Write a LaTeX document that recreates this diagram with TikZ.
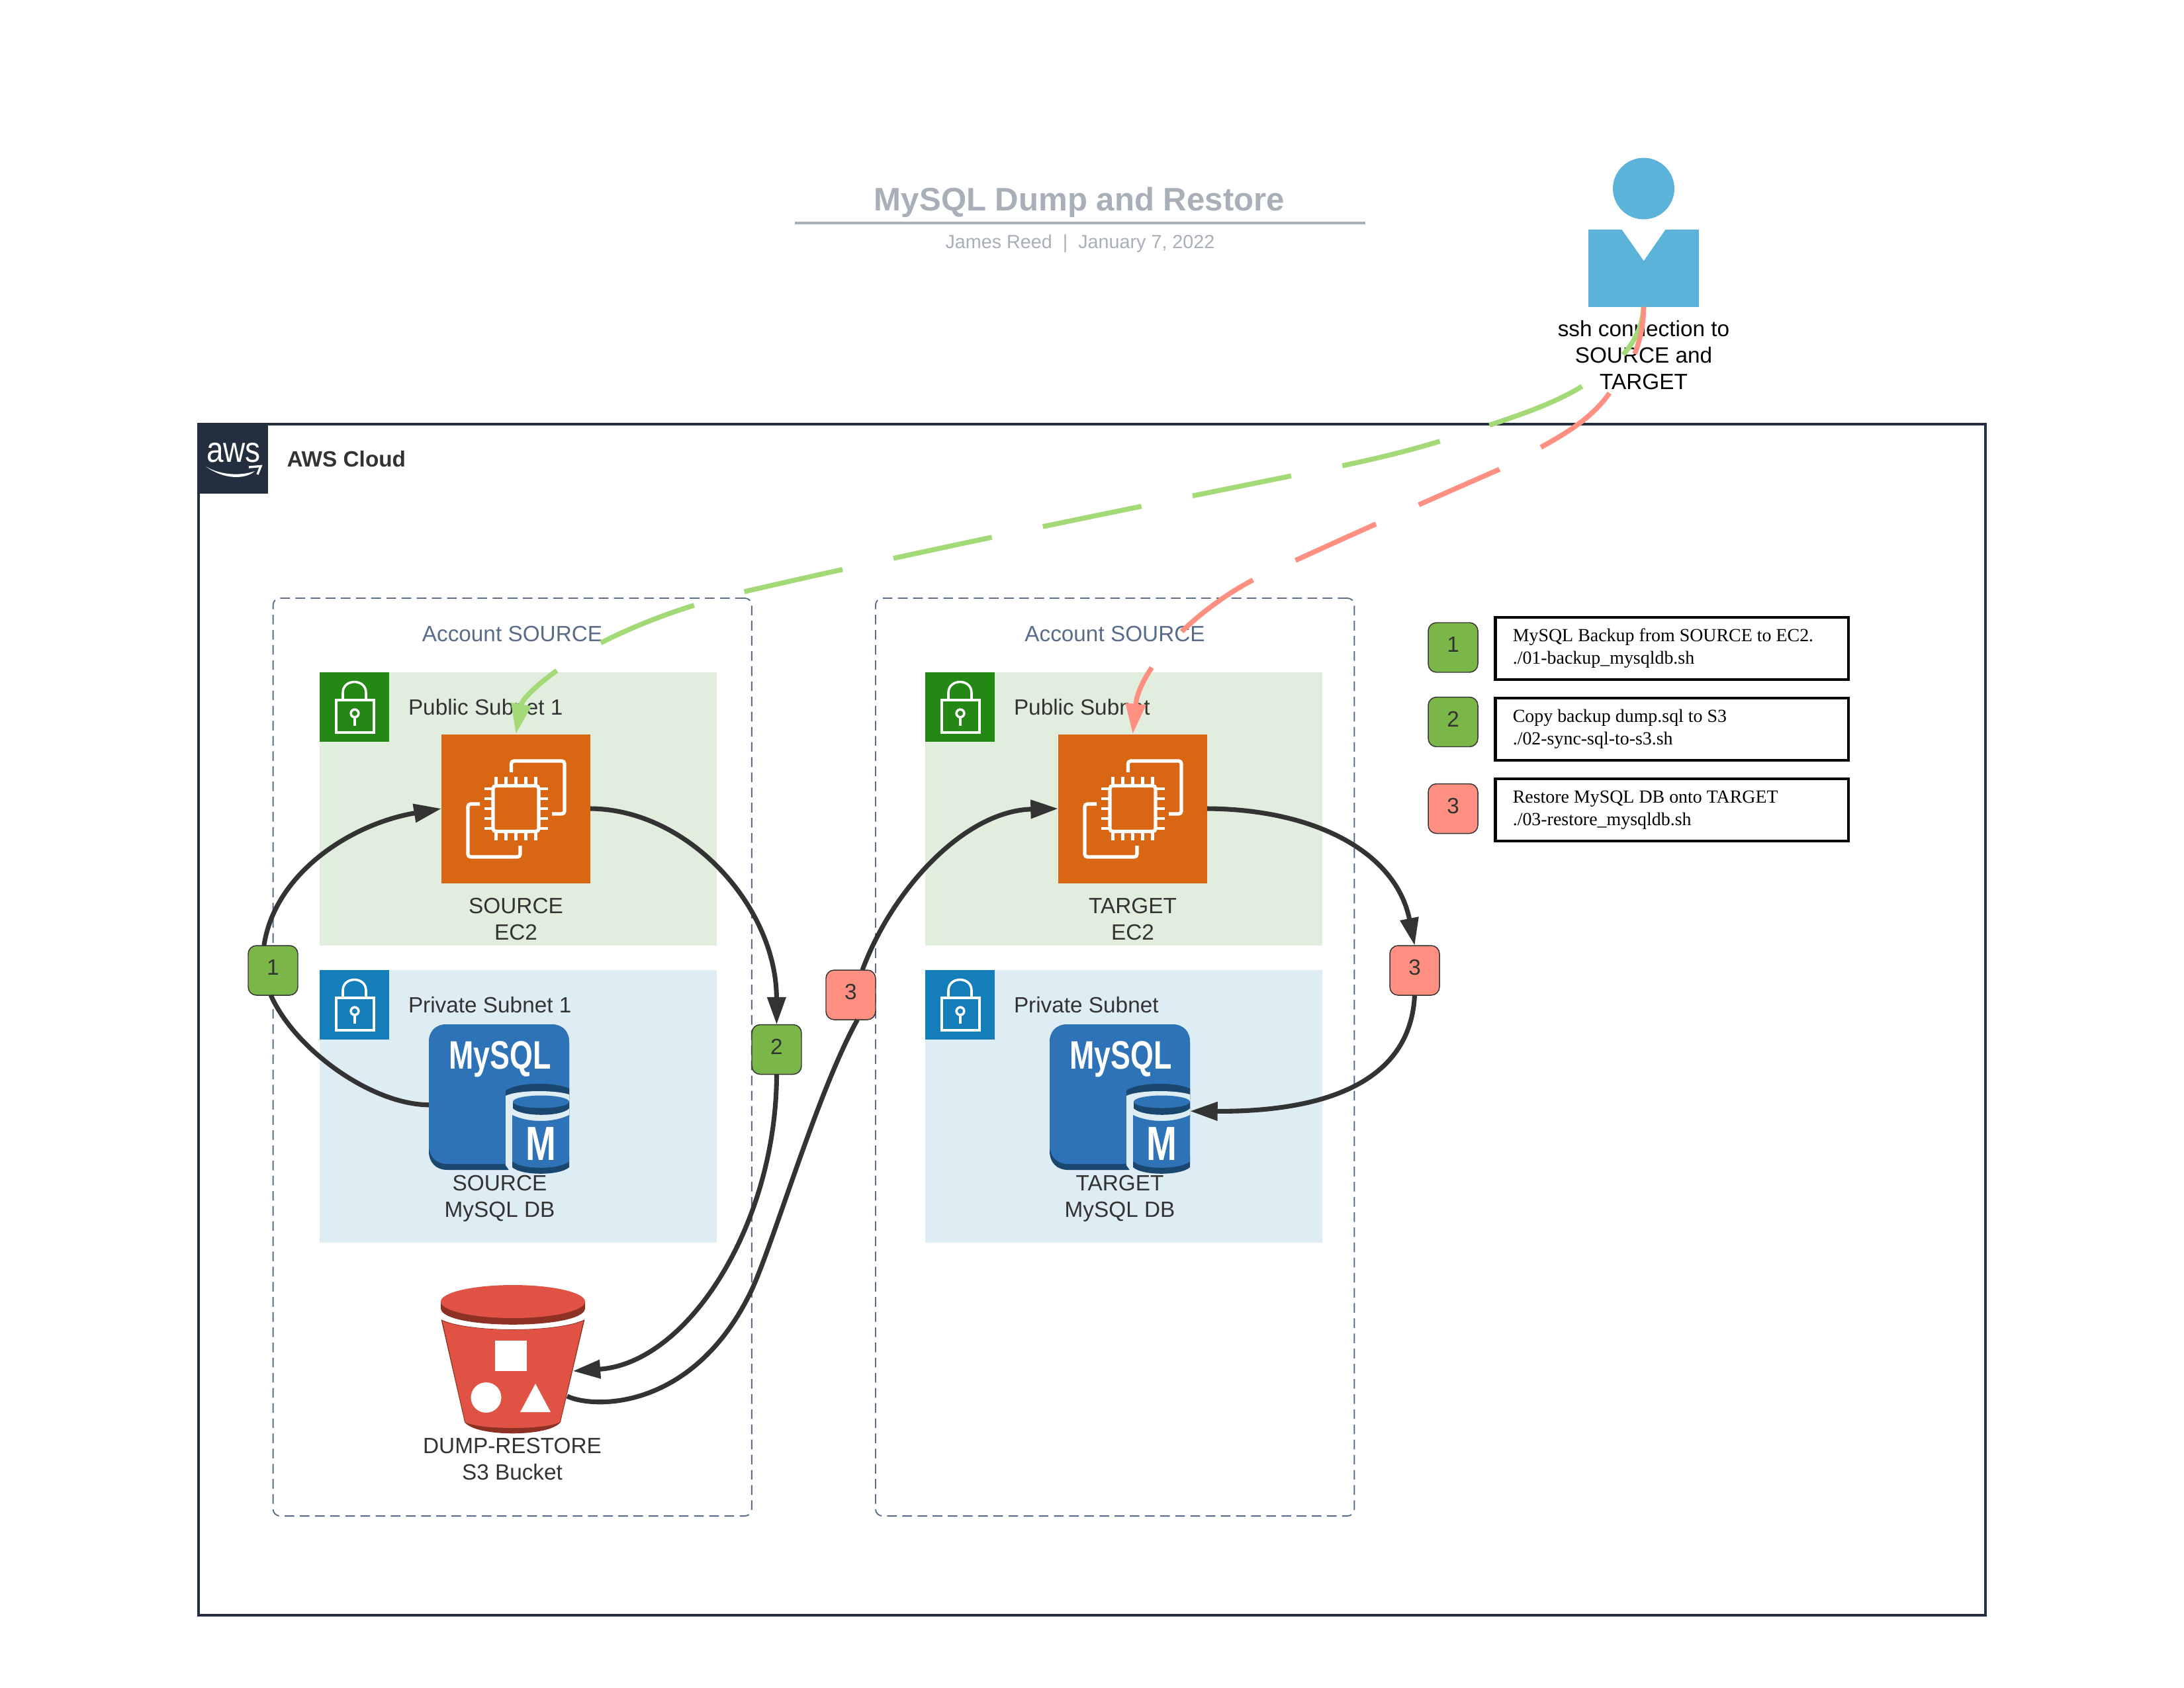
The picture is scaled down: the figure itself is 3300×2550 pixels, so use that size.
\documentclass[tikz,border=0pt]{standalone}
\usepackage{fontspec}
\setmainfont{Liberation Sans}
\newfontfamily\notefont{Liberation Serif}
\usetikzlibrary{arrows.meta,positioning}
\definecolor{awsdark}{HTML}{232F3E}
\definecolor{inktext}{HTML}{333333}
\definecolor{greybar}{HTML}{A9AFB8}
\definecolor{acctline}{HTML}{596C8A}
\definecolor{pubfill}{HTML}{E1EEDD}
\definecolor{privfill}{HTML}{DEECF4}
\definecolor{lockgreen}{HTML}{248814}
\definecolor{lockblue}{HTML}{147EBA}
\definecolor{ec2orange}{HTML}{D86613}
\definecolor{dbblue}{HTML}{2E73B8}
\definecolor{dbdark}{HTML}{1A476F}
\definecolor{s3red}{HTML}{E05243}
\definecolor{s3dark}{HTML}{8C3123}
\definecolor{stepgreen}{HTML}{7AB648}
\definecolor{stepred}{HTML}{FF8F80}
\definecolor{sshgreen}{HTML}{A3D977}
\definecolor{userblue}{HTML}{5CB3D9}
\tikzset{
pics/lockicon/.style={code={
	\draw[white,line width=0.85pt] (25,42) rectangle (82,91);
	\draw[white,line width=0.85pt] (35,42) -- (35,31) .. controls (35,9) and (70,9) .. (70,31) -- (70,42);
	\draw[white,line width=0.85pt] (53,62) circle (1.4pt);
	\draw[white,line width=0.85pt] (53,68) -- (53,81);
}},
pics/ec2icon/.style={code={
	\draw[white,line width=1.25pt,rounded corners=1pt] (-7,-55) -- (-7,-72) -- (73.5,-72) -- (73.5,8) -- (54.5,8);
	\draw[white,line width=1.25pt,rounded corners=1pt] (-54.5,-7) -- (-72.5,-7) -- (-72.5,73) -- (6.5,73) -- (6.5,56);
	\draw[white,line width=1.25pt,rounded corners=1pt] (-34.5,-34.5) rectangle (34.5,34.5);
	\foreach \k in {-30,-15,0,15,30} {
		\draw[white,line width=1.1pt] (\k,-34) -- (\k,-48);
		\draw[white,line width=1.1pt] (\k,34) -- (\k,48);
		\draw[white,line width=1.1pt] (-34,\k) -- (-48,\k);
		\draw[white,line width=1.1pt] (34,\k) -- (48,\k);
	}
}},
pics/mysqlicon/.style={code={
	\fill[dbdark] (0,28) .. controls (0,10) and (10,0) .. (28,0) -- (184,0) .. controls (202,0) and (212,10) .. (212,28) -- (212,140) -- (121,220) -- (28,220) .. controls (10,220) and (0,208) .. (0,192) -- cycle;
	\fill[dbblue] (0,28) .. controls (0,10) and (10,0) .. (28,0) -- (184,0) .. controls (202,0) and (212,10) .. (212,28) -- (212,140) -- (116,211) -- (28,211) .. controls (10,211) and (0,199) .. (0,183) -- cycle;
	\fill[dbdark] (116,100) .. controls (135,87) and (190,87) .. (212,97) -- (212,112) -- (116,112) -- cycle;
	\fill[privfill] (116,108) .. controls (135,99) and (190,99) .. (212,106) -- (212,225) -- (121,225) -- (121,220) -- (116,213) -- cycle;
	\fill[dbdark] (127,117) -- (127,127) .. controls (140,140) and (200,140) .. (212,127) -- (212,117) -- cycle;
	\fill[dbblue] (169.5,117) ellipse [x radius=42.5,y radius=9.5];
	\fill[dbdark] (126,200) -- (126,216) .. controls (140,229) and (198,229) .. (212,216) -- (212,200) -- cycle;
	\fill[dbblue] (126,137) .. controls (150,149) and (188,149) .. (212,137) -- (212,207) .. controls (198,220) and (140,220) .. (126,207) -- cycle;
	\node[white,anchor=base west,inner sep=0pt,xscale=0.746,font=\fontsize{14.4}{14.4}\selectfont\bfseries] at (30,67) {MySQL};
	\node[white,anchor=base west,inner sep=0pt,xscale=0.76,font=\fontsize{17.4}{17.4}\selectfont\bfseries] at (146,205) {M};
}},
pics/s3icon/.style={code={
	\fill[s3dark] (36,198) -- (181,198) -- (181,207) .. controls (165,230) and (52,230) .. (36,207) -- cycle;
	\fill[s3dark] (0.5,52) .. controls (40,72) and (178,72) .. (217.5,52) -- (181,207) .. controls (160,222) and (57,222) .. (36,207) -- cycle;
	\fill[s3red] (2.5,54) .. controls (40,72) and (178,72) .. (215.5,54) -- (180,207) .. controls (160,219) and (57,219) .. (37,207) -- cycle;
	\fill[s3dark] (0,25) -- (0,35) .. controls (0,68) and (218,68) .. (218,35) -- (218,25) -- cycle;
	\fill[s3red] (109,25) ellipse [x radius=109,y radius=25];
	\fill[white] (82,84) rectangle (130,130);
	\fill[white] (68.5,170) circle (5.5pt);
	\fill[white] (120,192) -- (143,149) -- (166,192) -- cycle;
}}
}
\begin{document}
\begin{tikzpicture}[x=0.24pt,y=-0.24pt]
\tikzstyle{plain}=[inner sep=0pt,outer sep=0pt]
\tikzstyle{label}=[plain,text=inktext,align=center,font=\fontsize{8}{9.6}\selectfont]
\tikzstyle{cloud}=[plain,draw=awsdark,line width=1pt,minimum width=648pt,minimum height=432pt,anchor=north west]
\tikzstyle{account}=[plain,draw=acctline,line width=0.45pt,dash pattern=on 3.5pt off 2pt,rounded corners=2.5pt,minimum width=173.6pt,minimum height=332.9pt,anchor=north west]
\tikzstyle{pubnet}=[plain,fill=pubfill,minimum width=144pt,minimum height=99.1pt,anchor=north west]
\tikzstyle{privnet}=[plain,fill=privfill,minimum width=144pt,minimum height=98.9pt,anchor=north west]
\tikzstyle{lockbox}=[plain,minimum size=25.2pt,anchor=north west]
\tikzstyle{ec2box}=[plain,fill=ec2orange,minimum size=54pt]
\tikzstyle{dbbox}=[plain,minimum width=50.9pt,minimum height=54pt]
\tikzstyle{stepbox}=[plain,draw=inktext,line width=0.35pt,rounded corners=3pt,minimum size=18pt,text=inktext,text height=5.8pt,text depth=2.4pt,font=\fontsize{8}{9.6}\selectfont]
\tikzstyle{notebox}=[plain,draw=black,line width=1pt,minimum width=128pt,minimum height=22.5pt,inner xsep=6.3pt,text width=115.4pt,align=flush left,anchor=north west,font=\notefont\fontsize{6.7}{8.2}\selectfont]
\tikzstyle{flow}=[draw=inktext,line width=1.7pt,-{Triangle[length=10pt,width=6.5pt]}]
\tikzstyle{flowend}=[draw=inktext,line width=1.7pt]
\useasboundingbox (0,0) rectangle (3300,2550);

\node[plain,text=greybar,font=\fontsize{11.8}{14}\selectfont\bfseries,anchor=base] (title) at (1631,318) {MySQL Dump and Restore};
\node[plain,minimum width=206.9pt,minimum height=1pt,fill=greybar] (titlebar) at (1632,336.7) {};
\node[plain,text=greybar,font=\fontsize{6.9}{8}\selectfont,anchor=base] (byline) at (1632,375) {James Reed~~|~~January 7, 2022};

\node[plain,circle,fill=userblue,minimum size=22.3pt] (head) at (2483.5,285) {};
\node[plain,fill=userblue,minimum width=40pt,minimum height=28pt] (user) at (2483.5,405.5) {};
\fill[white] (2450,346) -- (2517,346) -- (2483.7,394) -- cycle;
\node[plain,align=center,text=black,font=\fontsize{8}{9.6}\selectfont] (userlabel) at (2483.5,537) {ssh connection to\\SOURCE and\\TARGET};

\node[cloud] (cloud) at (299.7,641) {};
\node[plain,fill=awsdark,minimum size=25.2pt,anchor=north west] (awslogo) at (299.7,641) {};
\node[plain,white,xscale=0.85,anchor=base,font=\fontsize{13}{13}\selectfont] (awstext) at (353,698) {aws};
\fill[white] (311,705) .. controls (340,726) and (372,724) .. (385,712) .. controls (365,719) and (335,719) .. (311,705) -- cycle;
\draw[white,line width=0.8pt] (376,706) -- (394,704.5) -- (389,717);
\node[plain,text=inktext,anchor=west,font=\fontsize{8}{9.6}\selectfont\bfseries] (cloudlabel) at (433.5,694) {AWS Cloud};

\node[account] (acctsrc) at (412.6,904) {};
\node[account] (accttgt) at (1323,904) {};
\node[label,text=acctline] (acctsrclabel) at (774,958) {Account SOURCE};
\node[label,text=acctline] (accttgtlabel) at (1684.5,958) {Account SOURCE};

\node[pubnet] (pubsrc) at (483,1016) {};
\node[pubnet] (pubtgt) at (1398,1016) {};
\node[privnet] (privsrc) at (483,1466) {};
\node[privnet] (privtgt) at (1398,1466) {};
\node[lockbox,fill=lockgreen] (locka) at (483,1016) {};
\node[lockbox,fill=lockgreen] (lockb) at (1398,1016) {};
\node[lockbox,fill=lockblue] (lockc) at (483,1466) {};
\node[lockbox,fill=lockblue] (lockd) at (1398,1466) {};
\pic at (483,1016) {lockicon};
\pic at (1398,1016) {lockicon};
\pic at (483,1466) {lockicon};
\pic at (1398,1466) {lockicon};
\node[label,anchor=west] (pubsrclabel) at (617,1069) {Public Subnet 1};
\node[label,anchor=west] (pubtgtlabel) at (1532,1069) {Public Subnet};
\node[label,anchor=west] (privsrclabel) at (617,1519) {Private Subnet 1};
\node[label,anchor=west] (privtgtlabel) at (1532,1519) {Private Subnet};

\node[ec2box] (srcec2) at (779.5,1222) {};
\node[ec2box] (tgtec2) at (1711.5,1222) {};
\pic at (srcec2.center) {ec2icon};
\pic at (tgtec2.center) {ec2icon};
\node[label] (srcec2label) at (779.5,1389) {SOURCE\\EC2};
\node[label] (tgtec2label) at (1711.5,1389) {TARGET\\EC2};

\node[dbbox] (srcdb) at (754,1660.5) {};
\node[dbbox] (tgtdb) at (1692,1660.5) {};
\pic at (648,1548) {mysqlicon};
\pic at (1586,1548) {mysqlicon};
\node[label] (srcdblabel) at (755,1811) {SOURCE\\MySQL DB};
\node[label] (tgtdblabel) at (1692,1811) {TARGET\\MySQL DB};

\node[plain,minimum width=52.3pt,minimum height=54pt] (bucket) at (775,2054) {};
\pic at (666,1942) {s3icon};
\node[label] (bucketlabel) at (774,2205) {DUMP-RESTORE\\S3 Bucket};

\node[stepbox,fill=stepgreen] (stepa) at (412.5,1466.5) {1};
\node[stepbox,fill=stepgreen] (stepb) at (1173.5,1586) {2};
\node[stepbox,fill=stepred] (stepc) at (1285.5,1503.5) {3};
\node[stepbox,fill=stepred] (stepd) at (2137.5,1466.5) {3};

\node[stepbox,fill=stepgreen] (keya) at (2195.5,978.5) {1};
\node[stepbox,fill=stepgreen] (keyb) at (2195.5,1091) {2};
\node[stepbox,fill=stepred] (keyc) at (2195.5,1222) {3};
\node[notebox] (notea) at (2259.5,933) {MySQL Backup from SOURCE to EC2.\\./01-backup\_mysqldb.sh};
\node[notebox] (noteb) at (2259.5,1055) {Copy backup dump.sql to S3\\./02-sync-sql-to-s3.sh};
\node[notebox] (notec) at (2259.5,1177) {Restore MySQL DB onto TARGET\\./03-restore\_mysqldb.sh};

\draw[flow] (stepa.110) .. controls (415,1320) and (530,1245) .. (srcec2.west);
\draw[flowend] (srcdb.185) .. controls (560,1669) and (445,1585) .. (stepa.-95);
\draw[flow] (srcec2.east) .. controls (1040,1223) and (1173,1370) .. (stepb.north);
\draw[flow] (stepb.south) .. controls (1173,1850) and (1040,2060) .. ([shift={(-18.5,18)}]bucket.east);
\draw[flowend] ([shift={(-27,56)}]bucket.east) .. controls (900,2130) and (1050,2130) .. (1136,1949) .. controls (1170,1875) and (1235,1650) .. (stepc.-75);
\draw[flow] (stepc.65) .. controls (1350,1340) and (1460,1225) .. (tgtec2.west);
\draw[flow] (tgtec2.east) .. controls (1990,1223) and (2110,1290) .. (stepd.north);
\draw[flow] (stepd.south) .. controls (2130,1660) and (1950,1680) .. (tgtdb.-10);

\draw[draw=sshgreen,line width=1.8pt,dash pattern=on 36.5pt off 18.9pt,dash phase=17.3pt,-{Triangle[length=11pt,width=7pt]}] (user.south) .. controls (2480,520) and (2440,555) .. (2390,584) .. controls (2345,612) and (2290,630) .. (2175,667) .. controls (2100,690) and (2020,706) .. (1947,720) .. controls (1660,778) and (1380,835) .. (1121,895) .. controls (1040,914) and (965,942) .. (907,972) .. controls (850,1002) and (790,1050) .. (srcec2.north);
\draw[draw=stepred,line width=1.8pt,dash pattern=on 32pt off 17pt,dash phase=14.6pt,-{Triangle[length=11pt,width=7pt]}] (user.south) .. controls (2483,510) and (2470,550) .. (2432.6,593) .. controls (2400,640) and (2350,665) .. (2264,710) .. controls (2140,764) and (2020,818) .. (1894,876) .. controls (1856,896) and (1820,922) .. (1788,952) .. controls (1765,975) and (1720,1025) .. (tgtec2.north);

\end{tikzpicture}
\end{document}
